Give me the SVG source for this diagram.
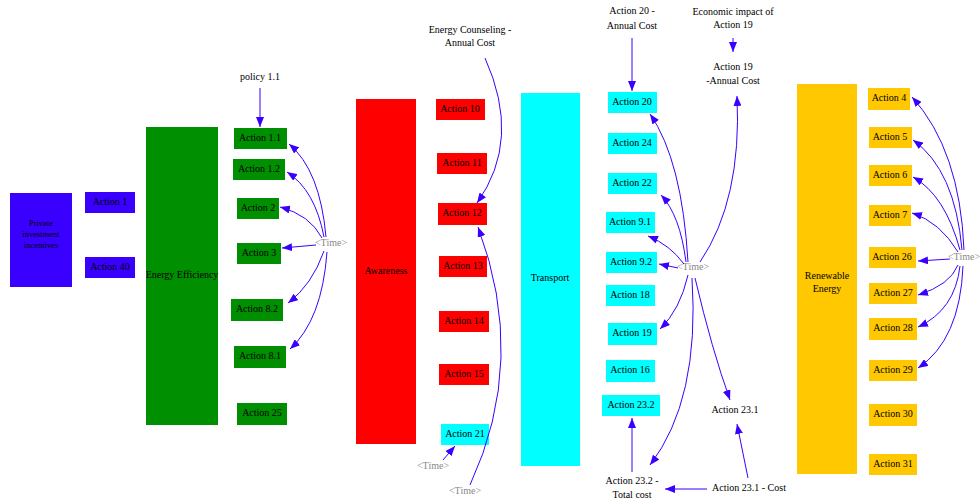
<svg xmlns="http://www.w3.org/2000/svg" width="980" height="502" viewBox="0 0 980 502">
<style>
text{font-family:"Liberation Serif","Times New Roman","DejaVu Serif",serif;font-size:10px;fill:#000;text-anchor:middle;dominant-baseline:middle}
.t{fill:#888}
.bl{fill:#3a00ff}
.gr{fill:#008f00}
.rd{fill:#ff0000}
.cy{fill:#00ffff}
.yl{fill:#ffc800}
.e{fill:none;stroke:#3a00ff;stroke-width:1;marker-end:url(#ah)}
</style>
<defs>
<marker id="ah" markerUnits="userSpaceOnUse" markerWidth="10" markerHeight="8" refX="10" refY="4" orient="auto">
<path d="M0,0 L10,4 L0,8 z" fill="#3a00ff"/>
</marker>
</defs>
<rect width="980" height="502" fill="#fff"/>
<g id="private-investment"><rect class="bl" x="10" y="193" width="62" height="94"/><text x="41" y="224" style="font-size:8.5px">Private</text><text x="41" y="235" style="font-size:8.5px">investment</text><text x="41" y="246" style="font-size:8.5px">incentives</text></g>
<g id="action-1"><rect class="bl" x="85" y="192" width="50" height="21"/><text x="110" y="203">Action 1</text></g>
<g id="action-40"><rect class="bl" x="85" y="257" width="50" height="21"/><text x="110" y="268">Action 40</text></g>

<g id="energy-efficiency"><rect class="gr" x="146" y="127" width="72" height="298"/><text x="182" y="276">Energy Efficiency</text></g>
<g id="policy-1-1"><text x="260" y="78">policy 1.1</text></g>
<g id="action-1-1"><rect class="gr" x="234" y="128" width="53" height="21"/><text x="260" y="139">Action 1.1</text></g>
<g id="action-1-2"><rect class="gr" x="233" y="159" width="52" height="21"/><text x="259" y="170">Action 1.2</text></g>
<g id="action-2"><rect class="gr" x="237" y="198" width="42" height="21"/><text x="258" y="209">Action 2</text></g>
<g id="action-3"><rect class="gr" x="237" y="243" width="44" height="21"/><text x="259" y="254">Action 3</text></g>
<g id="action-8-2"><rect class="gr" x="231" y="299" width="52" height="22"/><text x="257" y="310">Action 8.2</text></g>
<g id="action-8-1"><rect class="gr" x="234" y="346" width="52" height="22"/><text x="260" y="357">Action 8.1</text></g>
<g id="action-25"><rect class="gr" x="237" y="403" width="50" height="22"/><text x="262" y="414">Action 25</text></g>
<g id="time-ee"><text class="t" x="331" y="244">&lt;Time&gt;</text></g>

<g id="awareness"><rect class="rd" x="356" y="99" width="60" height="345"/><text x="386" y="272">Awareness</text></g>
<g id="energy-counseling"><text x="470" y="31">Energy Counseling -</text><text x="470" y="44">Annual Cost</text></g>
<g id="action-10"><rect class="rd" x="436" y="99" width="49" height="21"/><text x="460" y="110">Action 10</text></g>
<g id="action-11"><rect class="rd" x="437" y="153" width="50" height="21"/><text x="462" y="164">Action 11</text></g>
<g id="action-12"><rect class="rd" x="438" y="203" width="49" height="22"/><text x="462" y="214">Action 12</text></g>
<g id="action-13"><rect class="rd" x="439" y="256" width="48" height="21"/><text x="463" y="267">Action 13</text></g>
<g id="action-14"><rect class="rd" x="439" y="311" width="50" height="21"/><text x="464" y="322">Action 14</text></g>
<g id="action-15"><rect class="rd" x="439" y="364" width="50" height="21"/><text x="464" y="375">Action 15</text></g>
<g id="action-21"><rect class="cy" x="441" y="424" width="48" height="21"/><text x="465" y="435">Action 21</text></g>
<g id="time-aw1"><text class="t" x="433" y="467">&lt;Time&gt;</text></g>
<g id="time-aw2"><text class="t" x="465" y="492">&lt;Time&gt;</text></g>

<g id="transport"><rect class="cy" x="521" y="93" width="59" height="373"/><text x="550" y="279">Transport</text></g>
<g id="action-20-cost"><text x="632" y="12">Action 20 -</text><text x="632" y="27">Annual Cost</text></g>
<g id="econ-impact-19"><text x="733" y="13">Economic impact of</text><text x="733" y="26">Action 19</text></g>
<g id="action-19-cost"><text x="733" y="68">Action 19</text><text x="733" y="82">-Annual Cost</text></g>
<g id="action-20"><rect class="cy" x="608" y="92" width="49" height="21"/><text x="632" y="103">Action 20</text></g>
<g id="action-24"><rect class="cy" x="608" y="133" width="49" height="21"/><text x="632" y="144">Action 24</text></g>
<g id="action-22"><rect class="cy" x="608" y="173" width="49" height="21"/><text x="632" y="184">Action 22</text></g>
<g id="action-9-1"><rect class="cy" x="606" y="212" width="49" height="21"/><text x="630" y="223">Action 9.1</text></g>
<g id="action-9-2"><rect class="cy" x="606" y="252" width="51" height="21"/><text x="631" y="263">Action 9.2</text></g>
<g id="action-18"><rect class="cy" x="606" y="285" width="49" height="21"/><text x="630" y="296">Action 18</text></g>
<g id="action-19"><rect class="cy" x="608" y="323" width="49" height="22"/><text x="632" y="334">Action 19</text></g>
<g id="action-16"><rect class="cy" x="606" y="360" width="49" height="22"/><text x="630" y="371">Action 16</text></g>
<g id="action-23-2"><rect class="cy" x="602" y="395" width="58" height="21"/><text x="631" y="406">Action 23.2</text></g>
<g id="time-tr"><text class="t" x="693" y="268">&lt;Time&gt;</text></g>
<g id="action-23-1"><text x="735" y="411">Action 23.1</text></g>
<g id="action-23-2-total"><text x="632" y="482">Action 23.2 -</text><text x="632" y="496">Total cost</text></g>
<g id="action-23-1-cost"><text x="749" y="489">Action 23.1 - Cost</text></g>

<g id="renewable-energy"><rect class="yl" x="797" y="84" width="60" height="390"/><text x="827" y="277">Renewable</text><text x="827" y="290">Energy</text></g>
<g id="action-4"><rect class="yl" x="868" y="88" width="42" height="22"/><text x="889" y="99">Action 4</text></g>
<g id="action-5"><rect class="yl" x="869" y="127" width="43" height="21"/><text x="890" y="138">Action 5</text></g>
<g id="action-6"><rect class="yl" x="869" y="165" width="43" height="21"/><text x="890" y="176">Action 6</text></g>
<g id="action-7"><rect class="yl" x="869" y="205" width="42" height="21"/><text x="890" y="216">Action 7</text></g>
<g id="action-26"><rect class="yl" x="869" y="247" width="47" height="21"/><text x="892" y="258">Action 26</text></g>
<g id="action-27"><rect class="yl" x="869" y="283" width="48" height="21"/><text x="893" y="294">Action 27</text></g>
<g id="action-28"><rect class="yl" x="869" y="318" width="48" height="22"/><text x="893" y="329">Action 28</text></g>
<g id="action-29"><rect class="yl" x="869" y="360" width="48" height="21"/><text x="893" y="371">Action 29</text></g>
<g id="action-30"><rect class="yl" x="869" y="404" width="48" height="22"/><text x="893" y="415">Action 30</text></g>
<g id="action-31"><rect class="yl" x="869" y="454" width="48" height="21"/><text x="893" y="465">Action 31</text></g>
<g id="time-re"><text class="t" x="964" y="258">&lt;Time&gt;</text></g>

<g id="connectors">
<path class="e" d="M260,88 L260,127"/>
<path class="e" d="M326,237 Q320,170 289,144"/>
<path class="e" d="M324,237 Q315,190 287,172"/>
<path class="e" d="M322,238 Q310,215 280,207"/>
<path class="e" d="M316,245 L282,248"/>
<path class="e" d="M324,251 Q312,285 288,303"/>
<path class="e" d="M327,252 Q322,320 290,349"/>

<path class="e" d="M485,58 Q522,140 477,203"/>
<path class="e" d="M443,460 L455,446"/>
<path class="e" d="M470,485 Q528,360 478,227"/>

<path class="e" d="M632,38 L632,91"/>
<path class="e" d="M733,38 L733,52"/>
<path class="e" d="M688,262 Q682,160 650,114"/>
<path class="e" d="M686,262 Q680,215 661,195"/>
<path class="e" d="M684,264 Q670,245 648,236"/>
<path class="e" d="M678,268 L659,264"/>
<path class="e" d="M688,275 Q680,310 660,329"/>
<path class="e" d="M692,278 Q700,400 650,465"/>
<path class="e" d="M695,278 Q712,350 730,400"/>
<path class="e" d="M700,262 Q742,200 737,96"/>
<path class="e" d="M748,478 L737,424"/>
<path class="e" d="M707,489 L665,489"/>
<path class="e" d="M632,472 L632,418"/>

<path class="e" d="M964,250 Q960,150 912,97"/>
<path class="e" d="M962,250 Q955,170 913,140"/>
<path class="e" d="M960,250 Q945,195 913,177"/>
<path class="e" d="M958,252 Q940,222 912,213"/>
<path class="e" d="M950,259 L918,261"/>
<path class="e" d="M958,265 Q950,285 918,295"/>
<path class="e" d="M960,266 Q955,310 918,327"/>
<path class="e" d="M963,266 Q960,340 918,368"/>
</g>
</svg>
